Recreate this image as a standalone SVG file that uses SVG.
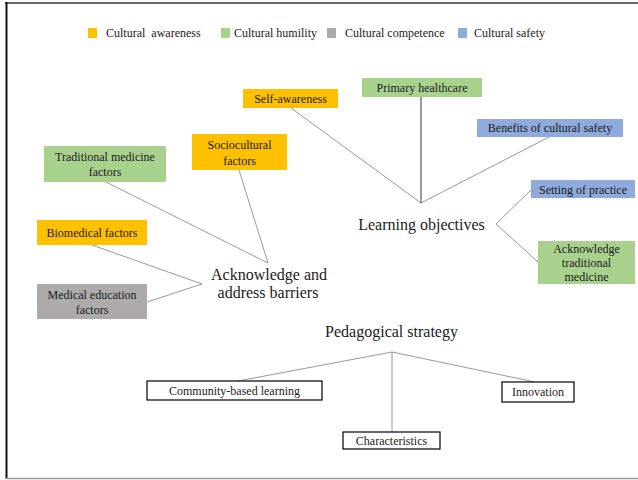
<svg xmlns="http://www.w3.org/2000/svg" width="638" height="480" viewBox="0 0 638 480" font-family="'Liberation Serif', 'DejaVu Serif', serif">
<style>
text{font-family:'Liberation Serif','DejaVu Serif',serif;fill:#1a1a1a}
.s{font-size:12px}
.b{font-size:16px}
.l{font-size:12px}
.aw{fill:#FFC000}
.hu{fill:#A9D18E}
.co{fill:#AEAAAA}
.sa{fill:#8FAADC}
.wb{fill:#fff;stroke:#000;stroke-width:1.2}
.c line{stroke:#7f7f7f;stroke-width:0.8}
</style>
<rect width="638" height="480" fill="#fff"/>
<line x1="5" y1="3" x2="638" y2="3" stroke="#333" stroke-width="1.6"/>
<line x1="6.5" y1="2" x2="6.5" y2="479" stroke="#111" stroke-width="2"/>
<line x1="6" y1="478.5" x2="638" y2="478.5" stroke="#999" stroke-width="1.5"/>

<g id="legend">
<rect x="88" y="28" width="9" height="10" class="aw"/>
<text x="106" y="37" class="l" xml:space="preserve">Cultural  awareness</text>
<rect x="221" y="28" width="9" height="10" class="hu"/>
<text x="234" y="37" class="l">Cultural humility</text>
<rect x="327" y="28" width="9" height="10" class="co"/>
<text x="345" y="37" class="l">Cultural competence</text>
<rect x="458" y="28" width="9" height="10" class="sa"/>
<text x="474" y="37" class="l">Cultural safety</text>
</g>

<g class="c" id="connectors">
<line x1="291" y1="108" x2="421" y2="203"/>
<line x1="421" y1="97" x2="421" y2="203" style="stroke:#000"/>
<line x1="549" y1="137" x2="421" y2="203"/>
<line x1="496" y1="224" x2="531" y2="190"/>
<line x1="496" y1="224" x2="538" y2="262"/>
<line x1="106" y1="182" x2="268" y2="263"/>
<line x1="239" y1="170" x2="268" y2="263"/>
<line x1="92" y1="245" x2="202" y2="284"/>
<line x1="147" y1="302" x2="202" y2="284"/>
<line x1="392" y1="352" x2="238" y2="381"/>
<line x1="392" y1="352" x2="535" y2="382"/>
<line x1="392" y1="352" x2="392" y2="432"/>
</g>

<g id="self-awareness"><rect x="243" y="89" width="95" height="19" class="aw"/><text x="290.5" y="102.5" class="s" text-anchor="middle">Self-awareness</text></g>
<g id="primary-healthcare"><rect x="362" y="78" width="120" height="19" class="hu"/><text x="422" y="91.5" class="s" text-anchor="middle">Primary healthcare</text></g>
<g id="benefits"><rect x="477" y="119" width="146" height="18" class="sa"/><text x="550" y="132" class="s" text-anchor="middle">Benefits of cultural safety</text></g>
<g id="learning-objectives"><text x="421.5" y="230" class="b" text-anchor="middle">Learning objectives</text></g>
<g id="setting"><rect x="531" y="180" width="104" height="18" class="sa"/><text x="583" y="193.5" class="s" text-anchor="middle">Setting of practice</text></g>
<g id="acknowledge-tm"><rect x="538" y="241" width="97" height="43" class="hu"/><text x="586.5" y="252.5" class="s" text-anchor="middle">Acknowledge</text><text x="586.5" y="267" class="s" text-anchor="middle">traditional</text><text x="586.5" y="281" class="s" text-anchor="middle">medicine</text></g>

<g id="traditional"><rect x="44" y="146" width="122" height="36" class="hu"/><text x="105" y="161" class="s" text-anchor="middle">Traditional medicine</text><text x="105" y="176" class="s" text-anchor="middle">factors</text></g>
<g id="sociocultural"><rect x="192" y="134" width="95" height="36" class="aw"/><text x="239.5" y="149" class="s" text-anchor="middle">Sociocultural</text><text x="239.5" y="164.5" class="s" text-anchor="middle">factors</text></g>
<g id="biomedical"><rect x="37" y="220" width="110" height="25" class="aw"/><text x="92" y="237" class="s" text-anchor="middle">Biomedical factors</text></g>
<g id="medical-education"><rect x="37" y="284" width="110" height="35" class="co"/><text x="92" y="298.5" class="s" text-anchor="middle">Medical education</text><text x="92" y="313.5" class="s" text-anchor="middle">factors</text></g>
<g id="barriers"><text x="269" y="280" class="b" text-anchor="middle">Acknowledge and</text><text x="268" y="298" class="b" text-anchor="middle">address barriers</text></g>

<g id="pedagogical"><text x="391.5" y="337" class="b" text-anchor="middle">Pedagogical strategy</text></g>
<g id="community"><rect x="147" y="381" width="175" height="19" class="wb"/><text x="234.5" y="394.5" class="s" text-anchor="middle">Community-based learning</text></g>
<g id="innovation"><rect x="502" y="382" width="72" height="20" class="wb"/><text x="538" y="396" class="s" text-anchor="middle">Innovation</text></g>
<g id="characteristics"><rect x="343" y="432" width="97" height="17" class="wb"/><text x="391.5" y="444.5" class="s" text-anchor="middle">Characteristics</text></g>
</svg>
